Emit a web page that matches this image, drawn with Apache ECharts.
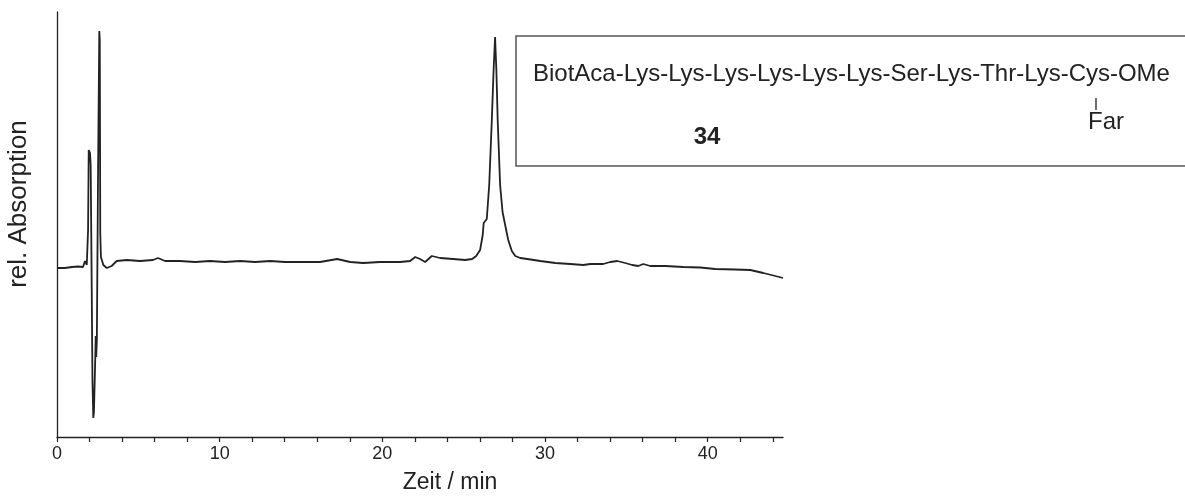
<!DOCTYPE html>
<html>
<head>
<meta charset="utf-8">
<script src="https://cdn.jsdelivr.net/npm/echarts@6/dist/echarts.min.js"></script>
<style>
html,body{margin:0;padding:0;background:#fff;}
#chart{width:1185px;height:499px;}
</style>
</head>
<body>
<div id="chart"></div>
<script>
// retention time (min)
const times = [0,0.49,0.92,1.29,1.6,1.72,1.83,1.91,1.95,2.03,2.07,2.12,2.18,2.23,2.27,2.34,2.38,2.41,2.45,2.52,2.6,2.63,2.66,2.7,2.85,3.06,3.36,3.67,4.29,5.1,5.9,6.21,6.64,7.56,8.49,9.41,10.33,11.26,12.18,13.1,14.02,14.94,16.17,17.22,18.02,18.82,19.86,21.09,21.71,22.02,22.32,22.63,23.04,23.55,24.35,25.09,25.52,25.77,26.01,26.17,26.23,26.42,26.57,26.73,26.84,26.93,27.01,27.09,27.24,27.39,27.55,27.74,27.96,28.17,28.48,28.91,29.71,30.63,31.55,32.35,32.78,33.58,34.01,34.44,34.93,35.36,35.73,36.04,36.47,37.39,38.5,39.54,40.46,41.69,42.62,43.42,44.16,44.63];
// relative absorption (arbitrary units)
const absorption = [169,169,170,170.5,170,176,172,207,287,284,272,177,57,19,25,70,101,80,97,257,406,397,204,180,172,169,171,176,177,176,177,179,176,176,175,176,175,176,175,176,175,175,175,178,175,174,175,175,176,180,178,175,181,179,178,177,178,181,187,202,214,218,252,317,367,400,367,317,252,225,212,197,186,181,179,178,176,174,173,172,173,173,175,176,174,172,171,173,171,171,170,169.5,168,167.5,167,164,161,159];
const xTickValues = [0,2,4,6,8,10,12,14,16,18,20,22,24,26,28,30,32,34,36,38,40,42,44];
const xLabelValues = [0,10,20,30,40];
const xTitle = 'Zeit / min';
const yTitle = 'rel. Absorption';
const compoundText = 'BiotAca-Lys-Lys-Lys-Lys-Lys-Lys-Ser-Lys-Thr-Lys-Cys-OMe';
const compoundNumber = '34';
const sideChain = 'Far';

const FONT = '"Liberation Sans", Arial, sans-serif';
const TXT = '#222';

const chart = echarts.init(document.getElementById('chart'), null, {renderer:'canvas'});
const seriesData = times.map((t,i)=>[t, absorption[i]]);

chart.setOption({
  animation:false,
  backgroundColor:'#fff',
  grid:{left:57, right:402, top:12, bottom:62, containLabel:false},
  xAxis:{
    type:'value', min:0, max:44.63,
    axisLine:{show:true, onZero:false, lineStyle:{color:'#222', width:1.3}},
    axisTick:{show:true, inside:false, length:5, customValues:xTickValues, lineStyle:{color:'#222', width:1.2}},
    axisLabel:{show:true, customValues:xLabelValues, margin:8, fontFamily:FONT, fontSize:18, color:TXT},
    splitLine:{show:false}
  },
  yAxis:{
    type:'value', min:0, max:425,
    axisLine:{show:true, lineStyle:{color:'#222', width:1.3}},
    axisTick:{show:false},
    axisLabel:{show:false},
    splitLine:{show:false}
  },
  series:[{
    type:'line', data:seriesData, showSymbol:false, smooth:false,
    lineStyle:{color:'#222', width:1.8}, z:3
  }],
  graphic:[
    {type:'text', x:450, y:483, style:{text:xTitle, fontFamily:FONT, fontSize:23, fill:TXT, align:'center', verticalAlign:'middle'}},
    {type:'text', x:19, y:204, rotation:Math.PI/2, style:{text:yTitle, fontFamily:FONT, fontSize:26, fill:TXT, align:'center', verticalAlign:'middle'}},
    {type:'rect', shape:{x:516, y:36, width:680, height:130}, style:{fill:'none', stroke:'#555', lineWidth:1.5}},
    {type:'text', x:533, y:74, style:{text:compoundText, fontFamily:FONT, fontSize:24, fill:TXT, align:'left', verticalAlign:'middle'}},
    {type:'text', x:707, y:137, style:{text:compoundNumber, fontFamily:FONT, fontSize:24, fontWeight:'bold', fill:TXT, align:'center', verticalAlign:'middle'}},
    {type:'line', shape:{x1:1096, y1:98, x2:1096, y2:110}, style:{stroke:'#222', lineWidth:1.3}},
    {type:'text', x:1088, y:122, style:{text:sideChain, fontFamily:FONT, fontSize:24, fill:TXT, align:'left', verticalAlign:'middle'}}
  ]
});
</script>
</body>
</html>
